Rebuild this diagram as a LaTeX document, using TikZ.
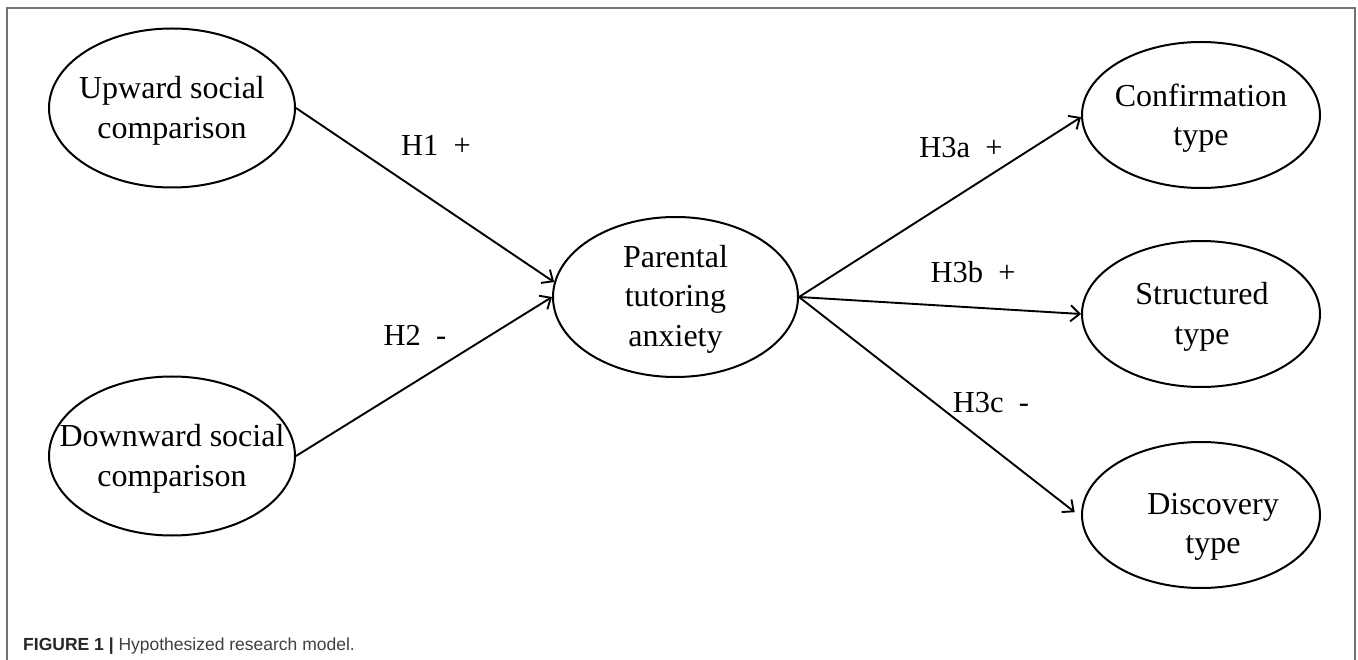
\documentclass[tikz,border=0pt]{standalone}
\usepackage{fontspec}
\setmainfont{Liberation Serif}
\newfontfamily\capfont{Liberation Sans}
\usetikzlibrary{shapes.geometric,arrows.meta}
\begin{document}
\begin{tikzpicture}[x=1pt,y=-1pt,
  oval/.style={draw,ellipse,line width=2pt,inner sep=0pt},
  leftoval/.style={oval,minimum width=246pt,minimum height=159pt},
  rightoval/.style={oval,minimum width=238pt,minimum height=146pt},
  txt/.style={align=center,inner sep=0pt,font=\fontsize{32}{39.5}\selectfont},
  hyp/.style={inner sep=0pt,font=\fontsize{30.5}{36}\selectfont},
  conn/.style={line width=1.9pt,-{Straight Barb[length=9pt,width=16pt,line width=1.9pt]}}]
\useasboundingbox (0,0) rectangle (1358,660);
\fill[white] (0,0) rectangle (1358,660);
% frame
\draw[line width=2pt,color=black!55] (7,680) -- (7,8) -- (1355,8) -- (1355,680);
% ellipses
\node[leftoval] (up) at (172,108) {};
\node[leftoval] (down) at (172,456) {};
\node[oval,minimum width=245pt,minimum height=160pt] (par) at (675.5,297) {};
\node[rightoval] (conf) at (1201,115) {};
\node[rightoval] (struct) at (1201,314) {};
\node[rightoval] (disc) at (1201,515) {};
% texts
\node[txt] (upT) at (172,111) {Upward social\\comparison};
\node[txt] (downT) at (172,459) {Downward social\\comparison};
\node[txt] (parT) at (675.5,299) {Parental\\tutoring\\anxiety};
\node[txt] (confT) at (1201,118) {Confirmation\\type};
\node[txt] (structT) at (1202,317) {Structured\\type};
\node[txt] (discT) at (1213,527) {Discovery\\type};
% connectors
\draw[conn] (up.east) -- (par.173);
\draw[conn] (down.east) -- (par.180);
\draw[conn] (par.east) -- (conf.181);
\draw[conn] (par.east) -- (struct.west);
\draw[conn,shorten >=8pt] (par.east) -- (disc.181);
% hypothesis labels
\node[hyp] (h1) at (436,145) {H1\ \ +};
\node[hyp] (h2) at (415,335) {H2\ \ -};
\node[hyp] (h3a) at (961,148) {H3a\ \ +};
\node[hyp] (h3b) at (973,272) {H3b\ \ +};
\node[hyp] (h3c) at (991,403) {H3c\ \ -};
% caption
\node[anchor=west,inner sep=0pt,font=\capfont\fontsize{17.5}{21}\selectfont,text=black!75] (cap) at (23,646)
  {\textcolor{black!85}{\textbf{FIGURE 1 |}} Hypothesized research model.};
\end{tikzpicture}
\end{document}
